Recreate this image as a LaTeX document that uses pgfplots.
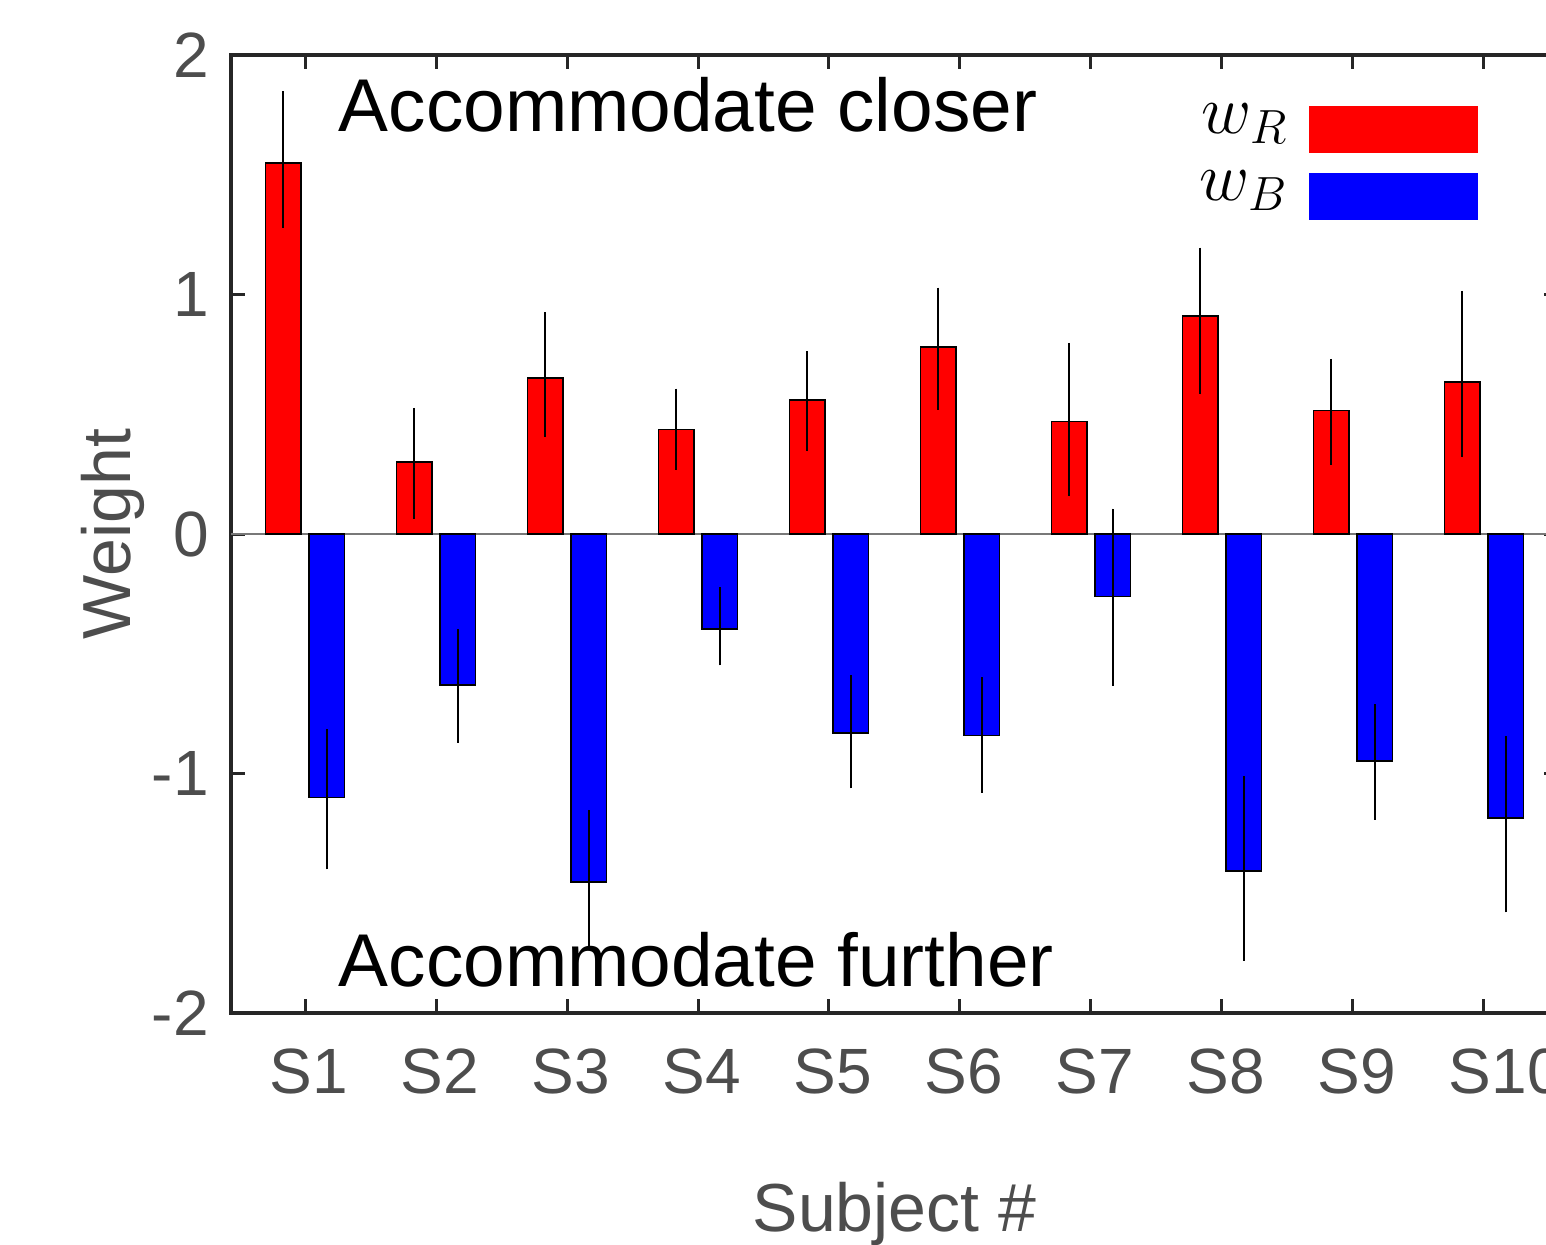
\documentclass[border={0pt 0pt -11.25pt 0pt}]{standalone}
\usepackage{fontspec}
\setmainfont{Liberation Sans}
\usepackage{pgfplots}
\pgfplotsset{compat=1.18}
\definecolor{axisgray}{RGB}{38,38,38}
\definecolor{labelgray}{RGB}{77,77,77}
\definecolor{zerogray}{RGB}{120,120,120}
\begin{document}
\begin{tikzpicture}
\path (-57.75pt,-57.925pt) rectangle (340pt,253.325pt);
\begin{axis}[
  at={(0,0)}, anchor=south west,
  scale only axis, width=331.75pt, height=239.575pt,
  xmin=0.435, xmax=10.565, ymin=-2, ymax=2,
  xtick={1,2,3,4,5,6,7,8,9,10},
  xticklabels={S1,S2,S3,S4,S5,S6,S7,S8,S9,S10},
  ytick={-2,-1,0,1,2}, yticklabels={-2,-1,0,1,2},
  tick align=inside, major tick length=3.5pt,
  axis line style={line width=1pt, axisgray},
  tick style={line width=0.75pt, axisgray},
  ticklabel style={font=\fontsize{16pt}{19pt}\selectfont, text=labelgray},
  xticklabel style={anchor=base west, inner sep=0pt, xshift=-9pt, yshift=-20pt},
  yticklabel style={xshift=-2pt},
  label style={font=\fontsize{17pt}{21pt}\selectfont, text=labelgray},
  xlabel={Subject \#}, ylabel={Weight},
  xlabel style={at={(axis description cs:0.5,-0.2279)}, anchor=base, inner sep=0pt, text depth=0pt},
  ylabel style={at={(axis description cs:-0.0761,0.5)}, anchor=base, inner sep=0pt},
  legend plot pos=right,
  legend cell align=right,
  legend style={draw=none, fill=none, inner sep=0pt, outer sep=0pt,
    at={(axis description cs:0.9397,0.9532)}, anchor=north east,
    row sep=0pt, column sep=5.25pt,
    font=\fontsize{17.4pt}{20pt}\selectfont,
    nodes={inner sep=0pt, text height=8.375pt, text depth=8.375pt}},
  error bars/error mark=none,
]
\addplot[forget plot, line width=0.4pt, zerogray] coordinates {(0.435,0) (10.565,0)};

\addplot[forget plot, ybar, bar width=0.272, bar shift=-0.166, fill=red, draw=black, line width=0.4pt,
  error bars/.cd, y dir=both, y explicit,
  error bar style={line width=0.5pt, black, xshift=-5.436pt}] coordinates {
  (1,1.549) += (0,0.299) -= (0,0.272)
  (2,0.300) += (0,0.227) -= (0,0.235)
  (3,0.651) += (0,0.276) -= (0,0.246)
  (4,0.437) += (0,0.171) -= (0,0.170)
  (5,0.561) += (0,0.203) -= (0,0.215)
  (6,0.781) += (0,0.248) -= (0,0.261)
  (7,0.471) += (0,0.328) -= (0,0.313)
  (8,0.910) += (0,0.286) -= (0,0.327)
  (9,0.516) += (0,0.216) -= (0,0.226)
  (10,0.636) += (0,0.380) -= (0,0.315)
};

\addplot[forget plot, ybar, bar width=0.272, bar shift=0.166, fill=blue, draw=black, line width=0.4pt,
  error bars/.cd, y dir=both, y explicit,
  error bar style={line width=0.5pt, black, xshift=5.436pt}] coordinates {
  (1,-1.100) += (0,0.286) -= (0,0.299)
  (2,-0.630) += (0,0.234) -= (0,0.240)
  (3,-1.453) += (0,0.302) -= (0,0.275)
  (4,-0.396) += (0,0.175) -= (0,0.152)
  (5,-0.829) += (0,0.241) -= (0,0.232)
  (6,-0.841) += (0,0.243) -= (0,0.238)
  (7,-0.260) += (0,0.367) -= (0,0.373)
  (8,-1.405) += (0,0.396) -= (0,0.376)
  (9,-0.947) += (0,0.237) -= (0,0.246)
  (10,-1.186) += (0,0.344) -= (0,0.393)
};

\addlegendimage{legend image code/.code={\fill[red] (0pt,-4.65pt) rectangle (41.75pt,6.6pt);}}
\addlegendentry{$w_R$}
\addlegendimage{legend image code/.code={\fill[blue] (0pt,-4.65pt) rectangle (41.75pt,6.6pt);}}
\addlegendentry{$w_B$}
\end{axis}
\node[anchor=base west, inner sep=0pt, font=\fontsize{18.7pt}{22pt}\selectfont] at (26.75pt,220.4pt) {Accommodate closer};
\node[anchor=base west, inner sep=0pt, font=\fontsize{18.7pt}{22pt}\selectfont] at (26.75pt,6.65pt) {Accommodate further};
\end{tikzpicture}
\end{document}
